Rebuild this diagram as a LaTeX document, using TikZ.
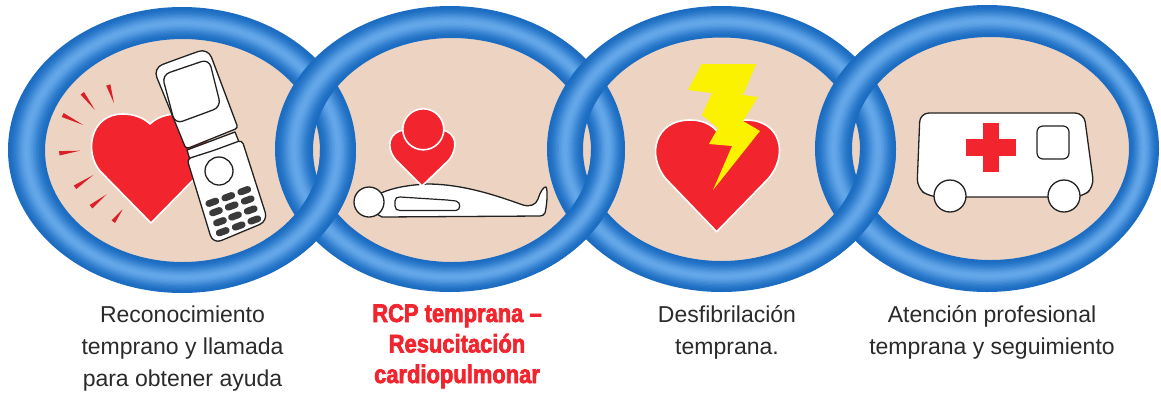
\documentclass[tikz,border=0pt]{standalone}
\usepackage{fontspec}
\setmainfont{Liberation Sans}
\newfontfamily\heavyfont[FakeStretch=0.86,FakeBold=2.6]{Liberation Sans Bold}
\definecolor{tanfill}{HTML}{EDD4C2}
\definecolor{tubeedge}{HTML}{1C6DC2}
\definecolor{tubemid}{HTML}{64A8EA}
\definecolor{redfill}{HTML}{F2252E}
\definecolor{boltyellow}{HTML}{FBF200}
\definecolor{inkline}{HTML}{222222}
\definecolor{keygrey}{HTML}{3A3A3A}
\definecolor{txt}{HTML}{2B2B2B}
\newcommand{\tubepath}[9]{%
  \foreach \k in {0,...,#9}{%
    \pgfmathsetmacro{\tt}{\k/(2*(#9+1))}%
    \pgfmathsetmacro{\mixv}{100*sin(180*\tt)*sin(180*\tt)}%
    \pgfmathsetmacro{\ax}{(#1)+\tt*((#5)-(#1))}%
    \pgfmathsetmacro{\bx}{(#2)+\tt*((#6)-(#2))}%
    \pgfmathsetmacro{\ay}{(#3)+\tt*((#7)-(#3))}%
    \pgfmathsetmacro{\by}{(#4)+\tt*((#8)-(#4))}%
    \pgfmathsetmacro{\cx}{(#5)+\tt*((#1)-(#5))}%
    \pgfmathsetmacro{\dx}{(#6)+\tt*((#2)-(#6))}%
    \pgfmathsetmacro{\cy}{(#7)+\tt*((#3)-(#7))}%
    \pgfmathsetmacro{\dy}{(#8)+\tt*((#4)-(#8))}%
    \fill[tubemid!\mixv!tubeedge,even odd rule]
      ({(\ax+\bx)/2},{(\ay+\by)/2}) ellipse [x radius={(\bx-\ax)/2},y radius={(\by-\ay)/2}]
      ({(\cx+\dx)/2},{(\cy+\dy)/2}) ellipse [x radius={(\dx-\cx)/2},y radius={(\dy-\cy)/2}];
  }}
\newcommand{\ringA}{\tubepath{8}{356}{7}{293}{45}{320}{39}{262}{11}}
\newcommand{\ringB}{\tubepath{275}{625}{6}{292}{313}{591}{38}{262}{11}}
\newcommand{\ringC}{\tubepath{547}{896}{6}{292}{583}{860}{37.5}{261}{11}}
\newcommand{\ringD}{\tubepath{815}{1159}{5}{292}{852}{1129}{37}{260}{11}}
\newcommand{\raywedge}[4]{\fill[redfill!90!black] ($(#1,#2)!2.2pt!90:(#3,#4)$) -- ($(#1,#2)!2.2pt!-90:(#3,#4)$) -- (#3,#4) -- cycle;}
\newcommand{\phonekey}[2]{\fill[keygrey,rounded corners=3.2pt,shift={(#1,#2)},rotate=20] (-7,-3.4) rectangle (7,3.4);}
\usetikzlibrary{calc}
\tikzset{
  heartstyle/.style={fill=redfill,draw=white,line width=1.6pt,line join=round},
  iconline/.style={draw=inkline,line width=1.3pt,fill=white,line join=round},
  caption/.style={font=\fontsize{23}{32}\selectfont,text=txt,align=center,anchor=north,inner sep=0pt},
  captionred/.style={font=\heavyfont\fontsize{25.5}{30.5}\selectfont,text=redfill,align=center,anchor=north,inner sep=0pt}
}
\begin{document}
\begin{tikzpicture}[x=1pt,y=-1pt]
\useasboundingbox (0,0) rectangle (1161,394);
\fill[white] (0,0) rectangle (1161,394);
% interiors
\fill[tanfill] (182.5,150.5) ellipse [x radius=140,y radius=114];
\fill[tanfill] (452,150) ellipse [x radius=141,y radius=114];
\fill[tanfill] (721.5,149.5) ellipse [x radius=141,y radius=114];
\fill[tanfill] (990.5,148.5) ellipse [x radius=141,y radius=114];
% rings, each lying over its left neighbour at the top
\ringA \ringB \ringC \ringD
% and under it at the bottom
\begin{scope}\clip (265,150) rectangle (366,300); \ringA \end{scope}
\begin{scope}\clip (540,150) rectangle (632,300); \ringB \end{scope}
\begin{scope}\clip (808,150) rectangle (904,300); \ringC \end{scope}
% ---- icon 1: heart and phone
\path[heartstyle] (151,223) -- (100,171) .. controls (84,152) and (90,114) .. (123,114)
  .. controls (134,114) and (144,118) .. (150,124)
  .. controls (156,118) and (166,114) .. (177,114)
  .. controls (210,114) and (216,152) .. (202,171) -- cycle;
\raywedge{108.3}{85}{114}{103.3}
\raywedge{82.3}{93.3}{95}{110}
\raywedge{62.7}{115}{83.3}{125}
\raywedge{59.3}{153.3}{80}{150.7}
\raywedge{75}{187.3}{93.3}{175}
\raywedge{91}{206.7}{106.7}{194.3}
\raywedge{113.3}{221.7}{122.7}{209.3}
\path[iconline] (187,150) -- (235,132) -- (239,142) -- (190,160) -- cycle;
\path[iconline] (180,58) [rounded corners=10pt] -- (208,48) [rounded corners=3pt] -- (238,128) -- (186,149) [rounded corners=10pt] -- (153,68) -- cycle;
\path[iconline] (215,150) [rounded corners=4pt] -- (242,140) [rounded corners=9pt] -- (268,221) -- (213,244) [rounded corners=4pt] -- (187,159) -- cycle;
\path[iconline,rounded corners=8pt] (162,75) -- (209,59) -- (221,107) -- (175,124) -- cycle;
\node[circle,draw=inkline,line width=1.3pt,fill=white,minimum size=28pt,inner sep=0pt] (phonebutton) at (219,171) {};
\phonekey{212.3}{202.3}\phonekey{228.3}{196.7}\phonekey{244.3}{190.7}
\phonekey{216}{211.7}\phonekey{231.7}{206}\phonekey{247.7}{200}
\phonekey{220}{221.7}\phonekey{235}{216}\phonekey{250.7}{210}
\phonekey{222.7}{231.7}\phonekey{238.7}{226}\phonekey{254.3}{220}
% ---- icon 2: patient and rescuer
\path[iconline] (381,193) .. controls (395,187) and (410,185) .. (427,184)
  .. controls (462,184) and (495,195) .. (523,205)
  .. controls (530,207) and (536,205) .. (538,199)
  .. controls (540,192) and (544,186) .. (546,187)
  .. controls (548,190) and (547,205) .. (545,213)
  .. controls (544,215) and (542,216) .. (540,216)
  -- (382,217) -- (370,210) -- cycle;
\node[circle,draw=inkline,line width=1.3pt,fill=white,minimum size=30pt,inner sep=0pt] (head) at (369,202) {};
\path[draw=inkline,line width=1.2pt,fill=white] (395,201) .. controls (395,198) and (397,197) .. (400,197) -- (447,200) -- (456,201)
  .. controls (461,202) and (461,210) .. (456,210.5) -- (400,210.5) .. controls (397,210.5) and (395,209) .. (395,206) -- cycle;
\path[heartstyle] (422,186) -- (396,160) .. controls (385,147) and (389,132) .. (404,130)
  -- (442,130) .. controls (456,132) and (459,147) .. (449,160) -- cycle;
\node[circle,draw=white,line width=1.6pt,fill=redfill,minimum size=41pt,inner sep=0pt] (rescuer) at (423.3,129.3) {};
% ---- icon 3: heart and bolt
\path[heartstyle] (716.7,231.7) -- (666,179) .. controls (646,155) and (655,120) .. (690,120)
  .. controls (702,120) and (711,124) .. (716.7,131)
  .. controls (723,124) and (735,120) .. (746,120)
  .. controls (781,120) and (789,155) .. (768,179) -- cycle;
\fill[boltyellow] (701.7,64) -- (756,64) -- (743,95) -- (758,97) -- (743,121) -- (760,131) -- (713,190) -- (732,146) -- (709,144) -- (718,128) -- (702,115) -- (712,93) -- (688,90) -- cycle;
% ---- icon 4: ambulance
\path[iconline,rounded corners=9pt] (920,113) -- (1084,113) -- (1094,187) -- (1082,197) -- (930,197) -- (917,188) -- cycle;
\node[circle,draw=inkline,line width=1.3pt,fill=white,minimum size=32pt,inner sep=0pt] (wheelback) at (950,196) {};
\node[circle,draw=inkline,line width=1.3pt,fill=white,minimum size=32pt,inner sep=0pt] (wheelfront) at (1064,196) {};
\fill[redfill] (983.3,122.7) rectangle (999,172.3);
\fill[redfill] (965.7,139.3) rectangle (1015.7,155.7);
\path[draw=inkline,line width=1.2pt,fill=white,rounded corners=6pt] (1037,126) rectangle (1069,159);
% ---- captions
\node[caption] (capA) at (182.5,305.5) {Reconocimiento\\temprano y llamada\\para obtener ayuda};
\node[captionred] (capB) at (457,304) {RCP temprana –\\Resucitación\\cardiopulmonar};
\node[caption] (capC) at (727,305.5) {Desfibrilación\\temprana.};
\node[caption] (capD) at (992,305.5) {Atención profesional\\temprana y seguimiento};
\end{tikzpicture}
\end{document}
